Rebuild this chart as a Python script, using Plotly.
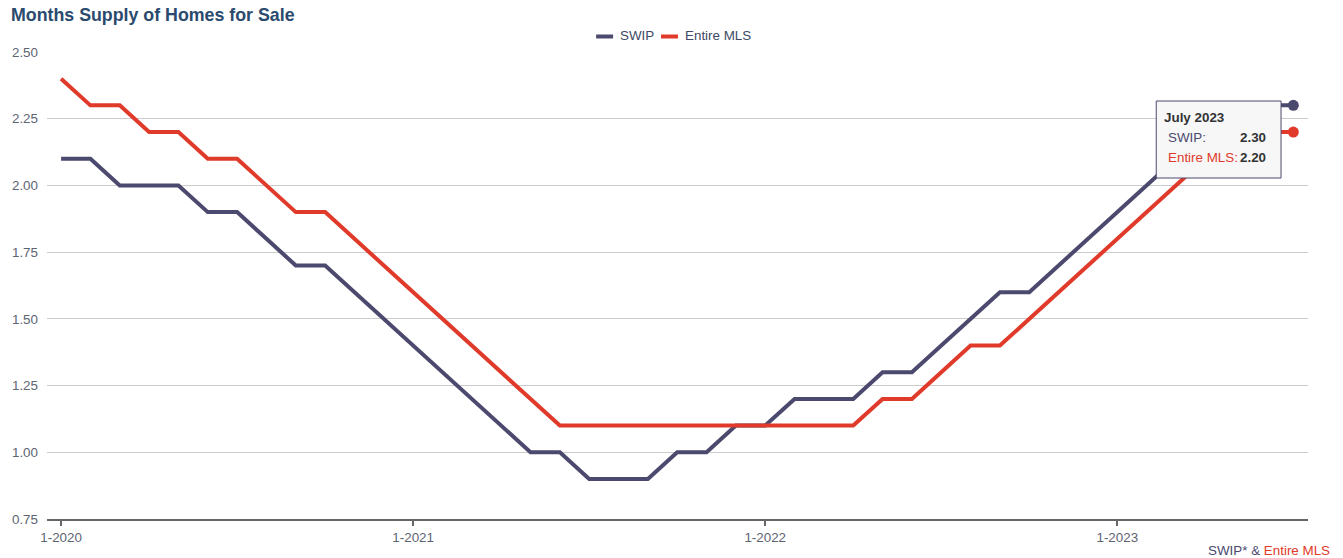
import plotly.graph_objects as go

# Monthly months-supply values, Jan 2020 .. Jul 2023
month_names = ["January", "February", "March", "April", "May", "June", "July",
               "August", "September", "October", "November", "December"]
swip = [2.1, 2.1, 2.0, 2.0, 2.0, 1.9, 1.9, 1.8, 1.7, 1.7, 1.6, 1.5,
        1.4, 1.3, 1.2, 1.1, 1.0, 1.0, 0.9, 0.9, 0.9, 1.0, 1.0, 1.1,
        1.1, 1.2, 1.2, 1.2, 1.3, 1.3, 1.4, 1.5, 1.6, 1.6, 1.7, 1.8,
        1.9, 2.0, 2.1, 2.2, 2.3, 2.3, 2.3]
entire_mls = [2.4, 2.3, 2.3, 2.2, 2.2, 2.1, 2.1, 2.0, 1.9, 1.9, 1.8, 1.7,
              1.6, 1.5, 1.4, 1.3, 1.2, 1.1, 1.1, 1.1, 1.1, 1.1, 1.1, 1.1,
              1.1, 1.1, 1.1, 1.1, 1.2, 1.2, 1.3, 1.4, 1.4, 1.5, 1.6, 1.7,
              1.8, 1.9, 2.0, 2.1, 2.2, 2.2, 2.2]
series_names = ["SWIP", "Entire MLS"]
x_tick_idx = [0, 12, 24, 36]
x_tick_text = ["1-2020", "1-2021", "1-2022", "1-2023"]
y_ticks = [0.75, 1.00, 1.25, 1.50, 1.75, 2.00, 2.25, 2.50]

SWIP_COLOR = "#4b4a6e"
MLS_COLOR = "#e03a2b"
LABEL_COLOR = "#5d6473"
FONT = "Liberation Sans, Arial, sans-serif"
FS = 13.4

x = list(range(len(swip)))
last = len(x) - 1

fig = go.Figure()
for name, vals, color in [(series_names[0], swip, SWIP_COLOR),
                          (series_names[1], entire_mls, MLS_COLOR)]:
    fig.add_trace(go.Scatter(
        x=x, y=vals, name=name, mode="lines",
        line=dict(color=color, width=4), showlegend=False,
    ))
    # highlighted latest point
    fig.add_trace(go.Scatter(
        x=[x[last]], y=[vals[last]], mode="markers", showlegend=False,
        marker=dict(color=color, size=11),
    ))

# plot area in pixels
W, H = 1343, 558
L, R, T, B = 45, 35, 52, 39
pw, ph = W - L - R, H - T - B


def px(xp):
    return (xp - L) / pw


def py(yp):
    return (H - B - yp) / ph


# compact legend: short line keys followed by labels
legend_items = [(series_names[0], SWIP_COLOR, 595), (series_names[1], MLS_COLOR, 660)]
shapes = []
annotations = []
for label, color, x0 in legend_items:
    shapes.append(dict(type="line", xref="paper", yref="paper",
                       x0=px(x0), x1=px(x0 + 17), y0=py(36.5), y1=py(36.5),
                       line=dict(color=color, width=4)))
    annotations.append(dict(text=label, x=px(x0 + 22), y=py(36), xanchor="left",
                            yanchor="middle", font=dict(size=FS, color="#3e4a66")))

# tooltip box for the latest month
tip_x0, tip_x1, tip_y0, tip_y1 = 1156, 1281, 101, 178
shapes.append(dict(type="rect", xref="paper", yref="paper", layer="above",
                   x0=px(tip_x0), x1=px(tip_x1), y0=py(tip_y1), y1=py(tip_y0),
                   fillcolor="#f7f7f7", line=dict(color="#4b4a6e", width=1)))

last_month = f"{month_names[last % 12]} {2020 + last // 12}"
annotations += [
    dict(text=f"<b>{last_month}</b>", x=px(1162), y=py(117), xanchor="left", yanchor="middle",
         font=dict(size=FS, color="#333333")),
    dict(text=f"{series_names[0]}:", x=px(1166), y=py(137), xanchor="left", yanchor="middle",
         font=dict(size=FS, color=SWIP_COLOR)),
    dict(text=f"<b>{swip[last]:.2f}</b>", x=px(1268), y=py(137), xanchor="right", yanchor="middle",
         font=dict(size=FS, color="#333333")),
    dict(text=f"{series_names[1]}:", x=px(1166), y=py(157), xanchor="left", yanchor="middle",
         font=dict(size=FS, color=MLS_COLOR)),
    dict(text=f"<b>{entire_mls[last]:.2f}</b>", x=px(1268), y=py(157), xanchor="right", yanchor="middle",
         font=dict(size=FS, color="#333333")),
    # source note
    dict(text=f"<span style='color:{SWIP_COLOR}'>SWIP* &amp; </span>"
              f"<span style='color:{MLS_COLOR}'>Entire MLS</span>",
         x=px(1332), y=py(550), xanchor="right", yanchor="middle",
         font=dict(size=FS)),
    # title
    dict(text="<b>Months Supply of Homes for Sale</b>", x=px(7), y=py(15),
         xanchor="left", yanchor="middle",
         font=dict(size=17.8, color="#2a4a6e")),
]
for a in annotations:
    a.update(xref="paper", yref="paper", showarrow=False)

fig.update_layout(
    width=W, height=H,
    margin=dict(l=L, r=R, t=T, b=B),
    paper_bgcolor="white", plot_bgcolor="white",
    font=dict(family=FONT, size=FS, color=LABEL_COLOR),
    showlegend=False,
    shapes=shapes,
    annotations=annotations,
    hovermode=False,
)
fig.update_xaxes(
    range=[-0.48, 42.5],
    tickvals=x_tick_idx, ticktext=x_tick_text,
    showgrid=False, zeroline=False,
    showline=True, linecolor="#666666", linewidth=2,
    ticks="outside", ticklen=5, tickwidth=2, tickcolor="#666666",
    tickfont=dict(size=FS, color=LABEL_COLOR),
)
fig.update_yaxes(
    range=[0.75, 2.5],
    tickvals=y_ticks, tickformat=".2f",
    showgrid=True, gridcolor="#cccccc", gridwidth=1,
    zeroline=False, showline=False,
    ticks="", ticklabelstandoff=8,
    tickfont=dict(size=FS, color=LABEL_COLOR),
)

fig.write_html("out.html")
